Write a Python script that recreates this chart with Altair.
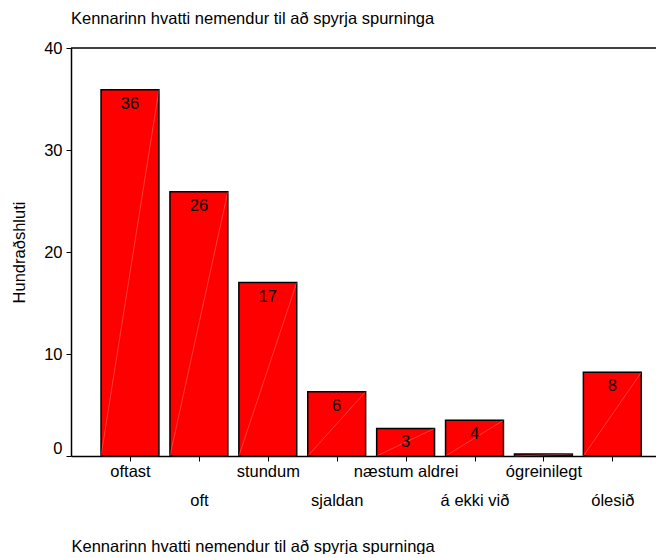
import json
import altair as alt
import pandas as pd

categories = ["oftast", "oft", "stundum", "sjaldan", "næstum aldrei", "á ekki við", "ógreinilegt", "ólesið"]
values = [35.9, 25.9, 17.0, 6.3, 2.7, 3.5, 0.2, 8.2]
bar_labels = ["36", "26", "17", "6", "3", "4", "", "8"]
y_ticks = [0, 10, 20, 30, 40]
title_text = "Kennarinn hvatti nemendur til að spyrja spurninga"
y_title = "Hundraðshluti"

df = pd.DataFrame({
    "flokkur": categories,
    "gildi": values,
    "merki": bar_labels,
    "i": list(range(len(categories))),
})
top_df = pd.DataFrame({"gildi": [max(y_ticks)]})

W, H = 585, 408
FONT = "Liberation Sans"
FS = 16.5
half = 0.42

x_scale = alt.Scale(domain=[-0.856, 7.634], nice=False, zero=False)
y_scale = alt.Scale(domain=[0, 40], nice=False)

label_expr = json.dumps(categories, ensure_ascii=False) + "[datum.value]"

x_axis = alt.Axis(
    values=list(range(len(categories))),
    labelExpr=label_expr,
    grid=False,
    tickSize=5,
    tickColor="black",
    domainColor="black",
    domainWidth=1.5,
    labelColor="black",
    labelFont=FONT,
    labelFontSize=FS,
    labelPadding={"condition": {"test": "datum.value % 2 == 1", "value": 31}, "value": 2},
    labelBaseline="top",
    title=title_text,
    titleFont=FONT,
    titleFontSize=FS,
    titleFontWeight="normal",
    titleColor="black",
    titleX=0,
    titleY=90,
    titleAlign="left",
    titleBaseline="middle",
)

y_axis = alt.Axis(
    values=y_ticks,
    grid=False,
    tickSize=5,
    tickColor="black",
    domainColor="black",
    domainWidth=1.5,
    labelColor="black",
    labelFont=FONT,
    labelFontSize=FS,
    labelPadding=4,
    labelBaseline={"condition": {"test": "datum.value == 0", "value": "bottom"}, "value": "middle"},
    title=y_title,
    titleFont=FONT,
    titleFontSize=FS,
    titleFontWeight="normal",
    titleColor="black",
    titlePadding=16,
)

base = alt.Chart(df).transform_calculate(
    x0=f"datum.i - {half}", x1=f"datum.i + {half}", nul="0"
)

bars = base.mark_rect(color="#ff0000", stroke="black", strokeWidth=1.5).encode(
    x=alt.X("x0:Q", scale=x_scale, axis=x_axis),
    x2="x1:Q",
    y=alt.Y("gildi:Q", scale=y_scale, axis=y_axis),
    y2="nul:Q",
)

diag = base.mark_rule(color="white", opacity=0.4, strokeWidth=0.6).encode(
    x=alt.X("x0:Q", scale=x_scale, axis=x_axis),
    x2="x1:Q",
    y=alt.Y("nul:Q", scale=y_scale, axis=y_axis),
    y2="gildi:Q",
)

text = base.transform_filter("datum.merki != ''").mark_text(
    dy=14, font=FONT, fontSize=FS, color="black"
).encode(
    x=alt.X("i:Q", scale=x_scale, axis=x_axis),
    y=alt.Y("gildi:Q", scale=y_scale, axis=y_axis),
    text="merki:N",
)

top_rule = alt.Chart(top_df).mark_rule(color="black", strokeWidth=1.5).encode(
    x=alt.value(0),
    x2=alt.value(W),
    y=alt.Y("gildi:Q", scale=y_scale, axis=y_axis),
)

chart = alt.layer(bars, diag, text, top_rule).properties(
    width=W,
    height=H,
    autosize=alt.AutoSizeParams(type="none"),
    padding={"left": 63, "top": 40, "right": 0, "bottom": 98},
    title=alt.TitleParams(
        title_text,
        anchor="start",
        frame="group",
        font=FONT,
        fontSize=FS,
        fontWeight="normal",
        color="black",
        baseline="bottom",
        offset=6,
        dy=9,
    ),
).configure_view(stroke=None)

chart.save("out.html", embed_options={"renderer": "svg", "actions": False})
